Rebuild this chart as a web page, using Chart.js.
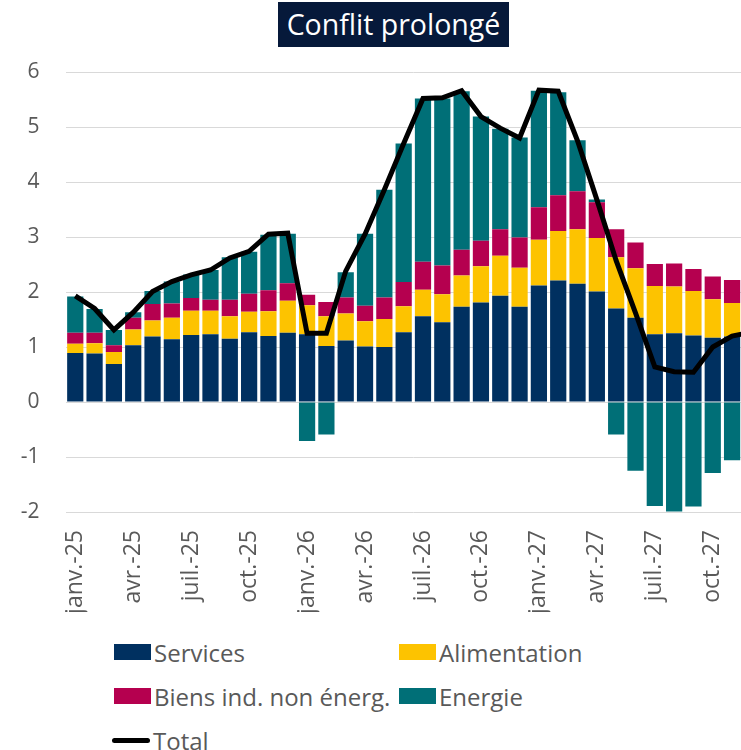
<!DOCTYPE html>
<html lang="fr">
<head>
<meta charset="utf-8">
<title>Conflit prolongé</title>
<script src="https://cdn.jsdelivr.net/npm/chart.js@4.4.1/dist/chart.umd.min.js"></script>
<style>
    html, body { margin: 0; padding: 0; background: #fff; overflow: hidden; }
    .wrap { position: relative; width: 741px; height: 750px; overflow: hidden; font-family: "Open Sans", sans-serif; }
    #chart { position: absolute; left: 0; top: 0; }
    .title {
        position: absolute; left: 278px; top: 2px; width: 231px; height: 45px;
        background: #06193a; color: #fff; font-size: 28.5px; line-height: 45px; text-align: center;
    }
    .legend { position: absolute; left: 114px; top: 630px; width: 600px; }
    .legend-item { position: absolute; display: flex; align-items: center; height: 44px; font-size: 24px; color: #595959; white-space: nowrap; }
    .legend-box { width: 37px; height: 16px; margin-right: 3px; }
    .legend-line { width: 38px; height: 5px; border-radius: 3px; margin-right: 3px; }
</style>
</head>
<body>
<div class="wrap">
    <canvas id="chart" width="797" height="612"></canvas>
    <div class="title">Conflit prolongé</div>
    <div class="legend" id="legend"></div>
</div>
<script>
// ============================================================
// DATA
// ============================================================
const months = ['janv.', 'févr.', 'mars', 'avr.', 'mai', 'juin', 'juil.', 'août', 'sept.', 'oct.', 'nov.', 'déc.'];
const years = ['25', '26', '27'];
const labels = [];
years.forEach(y => months.forEach(m => labels.push(m + '-' + y)));

const services = [0.89, 0.88, 0.69, 1.03, 1.19, 1.14, 1.22, 1.23, 1.15, 1.27, 1.20, 1.26,
                  1.23, 1.02, 1.12, 1.01, 1.00, 1.27, 1.56, 1.45, 1.73, 1.81, 1.93, 1.73,
                  2.12, 2.21, 2.15, 2.01, 1.70, 1.53, 1.23, 1.25, 1.21, 1.17, 1.19, 1.20];
const alimentation = [0.17, 0.19, 0.22, 0.29, 0.29, 0.39, 0.44, 0.43, 0.41, 0.37, 0.45, 0.58,
                      0.53, 0.54, 0.49, 0.46, 0.51, 0.47, 0.48, 0.51, 0.57, 0.66, 0.73, 0.71,
                      0.83, 0.90, 0.99, 0.97, 0.93, 0.90, 0.88, 0.85, 0.81, 0.70, 0.61, 0.57];
const biens = [0.20, 0.19, 0.12, 0.21, 0.30, 0.26, 0.23, 0.20, 0.30, 0.33, 0.38, 0.32,
               0.19, 0.26, 0.29, 0.28, 0.39, 0.44, 0.51, 0.52, 0.47, 0.46, 0.48, 0.55,
               0.59, 0.65, 0.69, 0.65, 0.51, 0.47, 0.40, 0.42, 0.40, 0.41, 0.42, 0.42];
const energie = [0.66, 0.43, 0.28, 0.10, 0.24, 0.40, 0.43, 0.54, 0.77, 0.76, 1.01, 0.90,
                 -0.71, -0.59, 0.46, 1.31, 1.96, 2.52, 2.97, 3.04, 2.88, 2.26, 1.83, 1.82,
                 2.12, 1.87, 0.93, 0.05, -0.59, -1.25, -1.89, -1.99, -1.90, -1.29, -1.06, -0.92];
const total = [1.93, 1.70, 1.31, 1.63, 2.01, 2.19, 2.31, 2.40, 2.62, 2.74, 3.05, 3.07,
               1.25, 1.25, 2.38, 3.05, 3.86, 4.70, 5.52, 5.53, 5.66, 5.19, 4.98, 4.80,
               5.67, 5.65, 4.75, 3.68, 2.57, 1.62, 0.64, 0.55, 0.54, 1.00, 1.20, 1.27];

const yTicks = [-2, -1, 0, 1, 2, 3, 4, 5, 6];

const COLORS = {
    services: '#003060',
    alimentation: '#fdc300',
    biens: '#b5004f',
    energie: '#006f77',
    total: '#000000'
};

// ============================================================
// CHART
// ============================================================
function barSet(label, data, color) {
    return {
        type: 'bar',
        label: label,
        data: data,
        backgroundColor: color,
        borderWidth: 0,
        barPercentage: 0.84,
        categoryPercentage: 1,
        order: 1
    };
}

function buildLegend(chart) {
    const box = document.getElementById('legend');
    // 2 columns, like the original
    const slots = [[0, 0], [285, 0], [0, 44], [285, 44], [0, 88]];
    chart.data.datasets.forEach((ds, i) => {
        const item = document.createElement('div');
        item.className = 'legend-item';
        item.style.left = slots[i][0] + 'px';
        item.style.top = slots[i][1] + 'px';
        const mark = document.createElement('span');
        if (ds.type === 'line') {
            mark.className = 'legend-line';
            mark.style.marginLeft = '-2px';
            mark.style.background = ds.borderColor;
        } else {
            mark.className = 'legend-box';
            mark.style.background = ds.backgroundColor;
        }
        item.appendChild(mark);
        item.appendChild(document.createTextNode(ds.label));
        box.appendChild(item);
    });
}

function initChart() {
    const ctx = document.getElementById('chart');
    const chart = new Chart(ctx, {
        data: {
            labels: labels,
            datasets: [
                barSet('Services', services, COLORS.services),
                barSet('Alimentation', alimentation, COLORS.alimentation),
                barSet('Biens ind. non énerg.', biens, COLORS.biens),
                barSet('Energie', energie, COLORS.energie),
                {
                    type: 'line',
                    label: 'Total',
                    data: total,
                    borderColor: COLORS.total,
                    borderWidth: 5,
                    pointRadius: 0,
                    tension: 0,
                    fill: false,
                    order: 0
                }
            ]
        },
        options: {
            responsive: false,
            animation: false,
            devicePixelRatio: 1,
            layout: { padding: { top: 72, left: 0, right: 0, bottom: 0 } },
            plugins: {
                legend: { display: false },
                tooltip: { enabled: false }
            },
            scales: {
                x: {
                    stacked: true,
                    grid: { display: false, drawTicks: false },
                    border: { display: false },
                    afterFit: function(scale) { scale.height = 100; },
                    ticks: {
                        autoSkip: false,
                        maxRotation: 90,
                        minRotation: 90,
                        padding: 18,
                        color: '#595959',
                        font: { family: 'Open Sans', size: 23 },
                        callback: function(value, index) {
                            return index % 3 === 0 ? labels[index] : '';
                        }
                    }
                },
                y: {
                    stacked: true,
                    min: yTicks[0],
                    max: yTicks[yTicks.length - 1],
                    afterFit: function(scale) { scale.width = 65.6; },
                    afterBuildTicks: function(scale) {
                        scale.ticks = yTicks.map(v => ({ value: v }));
                    },
                    grid: { color: '#d9d9d9', lineWidth: 1, drawTicks: false },
                    border: { display: false },
                    ticks: {
                        padding: 26,
                        color: '#595959',
                        font: { family: 'Open Sans', size: 21 }
                    }
                }
            }
        }
    });
    buildLegend(chart);
}

document.fonts.load('21px "Open Sans"').then(initChart, initChart);
</script>
</body>
</html>
